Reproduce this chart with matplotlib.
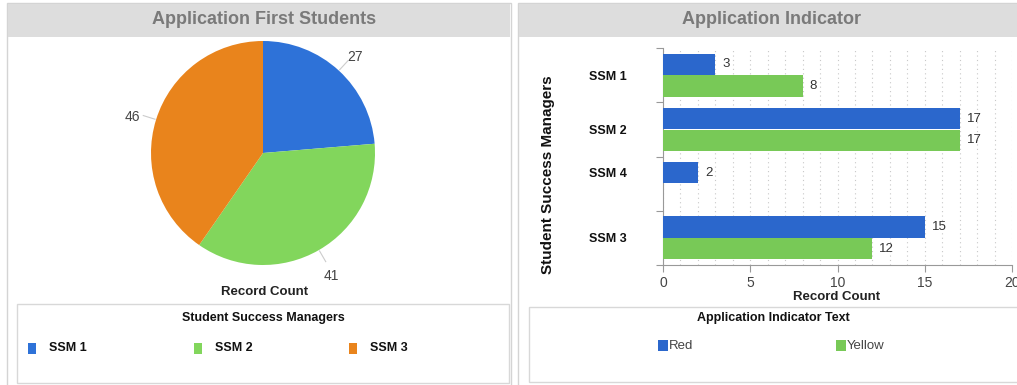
import numpy as np
import matplotlib
matplotlib.use('Agg')
import matplotlib.pyplot as plt
from matplotlib.patches import Rectangle

plt.rcParams['font.family'] = ['Liberation Sans', 'DejaVu Sans']

# pie data
pie_labels = ['SSM 1', 'SSM 2', 'SSM 3']
pie_values = [27, 41, 46]
pie_colors = ['#2e72d8', '#82d65c', '#e9841c']

# bar data
managers = ['SSM 1', 'SSM 2', 'SSM 4', 'SSM 3']
red_counts = [3, 17, 2, 15]
yellow_counts = [8, 17, None, 12]
bar_series = ['Red', 'Yellow']
bar_colors = ['#2b67cc', '#78c957']
x_ticks = [0, 5, 10, 15, 20]

W, H = 1017, 385
fig = plt.figure(figsize=(W / 100., H / 100.), dpi=100)
fig.patch.set_facecolor('white')

def fx(x):
    return x / float(W)

def fy(y):
    return 1 - y / float(H)

def box(x0, y0, x1, y1, zorder=-1, **kw):
    fig.patches.append(Rectangle((fx(x0), fy(y1)), (x1 - x0) / float(W), (y1 - y0) / float(H),
                                 transform=fig.transFigure, zorder=zorder, **kw))

def ptext(x, y, s, **kw):
    kw.setdefault('ha', 'center')
    kw.setdefault('va', 'center')
    fig.text(fx(x), fy(y), s, **kw)

# panel frames and title bars
box(7, 3, 511, 386, facecolor='white', edgecolor='#d4d4d4', linewidth=1, zorder=-3)
box(518, 3, 1018, 386, facecolor='white', edgecolor='#d4d4d4', linewidth=1, zorder=-3)
box(8, 4, 510, 37, facecolor='#dddddd', edgecolor='none', zorder=-2)
box(519, 4, 1017, 37, facecolor='#dddddd', edgecolor='none', zorder=-2)
ptext(264, 20, 'Application First Students', fontsize=13, fontweight='bold', color='#7a7a7a')
ptext(772, 20, 'Application Indicator', fontsize=13, fontweight='bold', color='#7a7a7a')

# legend boxes
box(17, 304, 509, 383, facecolor='white', edgecolor='#d8d8d8', linewidth=1)
box(529, 307, 1020, 382, facecolor='white', edgecolor='#d8d8d8', linewidth=1)

# ---- pie ----
cx, cy, r = 263, 153, 112
hw, hh = 160, 150
ax_pie = fig.add_axes([fx(cx - hw), fy(cy + hh), 2 * hw / float(W), 2 * hh / float(H)])
ax_pie.pie(pie_values, colors=pie_colors, startangle=90, counterclock=False,
           radius=1, wedgeprops=dict(linewidth=0))
ax_pie.set_xlim(-hw / float(r), hw / float(r))
ax_pie.set_ylim(-hh / float(r), hh / float(r))
ax_pie.set_aspect('auto')
ax_pie.axis('off')

total = float(sum(pie_values))
cum = 0
for v in pie_values:
    theta = np.deg2rad(90 - 360 * (cum + v / 2.) / total)
    cum += v
    c, s = np.cos(theta), np.sin(theta)
    ax_pie.plot([1.01 * c, 1.12 * c], [1.01 * s, 1.12 * s], color='#cccccc', lw=0.8, clip_on=False)
    ax_pie.text(1.22 * c, 1.22 * s - 0.04, str(v), ha='center', va='center', fontsize=10,
                color='#444444')

ptext(265, 292, 'Record Count', fontsize=9.5, fontweight='bold', color='#222222')
ptext(263, 318, 'Student Success Managers', fontsize=9, fontweight='bold', color='#111111')
legend_x = [28, 194, 349]
for lx, lab, col in zip(legend_x, pie_labels, pie_colors):
    box(lx, 343, lx + 8, 354, zorder=1, facecolor=col, edgecolor='none')
    ptext(lx + 21, 348, lab, fontsize=9, fontweight='bold', color='#111111', ha='left')

# ---- bars ----
x0, x1, y0, y1 = 663, 1012, 48, 265
ax_bar = fig.add_axes([fx(x0), fy(y1), (x1 - x0) / float(W), (y1 - y0) / float(H)])
ax_bar.patch.set_alpha(0)
bh = 0.39
offsets = [0.3, 0.7]
centers = []
for i, name in enumerate(managers):
    present = []
    for off, vals, col in zip(offsets, [red_counts, yellow_counts], bar_colors):
        v = vals[i]
        if v is None:
            continue
        present.append(off)
        ax_bar.barh(i + off, v, height=bh, color=col, edgecolor='none', zorder=3)
        ax_bar.annotate(str(v), (v, i + off), xytext=(5, 0), textcoords='offset points',
                        ha='left', va='center', fontsize=9.5, color='#333333')
    centers.append(i + np.mean(present))

ax_bar.set_xlim(0, 20)
ax_bar.set_ylim(len(managers), 0)
ax_bar.set_xticks(x_ticks)
ax_bar.set_xticks(np.arange(1, 21), minor=True)
ax_bar.xaxis.grid(True, which='both', color='#c8c8c8', linestyle=(0, (1, 3)), lw=0.8, zorder=0)
ax_bar.tick_params(axis='x', which='major', length=5, color='#999999', labelsize=10,
                   labelcolor='#444444', pad=3)
ax_bar.tick_params(axis='x', which='minor', length=0)
ax_bar.set_yticks(np.arange(len(managers) + 1))
ax_bar.set_yticklabels([])
ax_bar.tick_params(axis='y', which='major', length=5, color='#999999')
ax_bar.set_yticks(centers, minor=True)
ax_bar.set_yticklabels(managers, minor=True, fontsize=9, fontweight='bold', color='#111111')
ax_bar.tick_params(axis='y', which='minor', length=0, pad=26)
for side in ['top', 'right']:
    ax_bar.spines[side].set_visible(False)
for side in ['left', 'bottom']:
    ax_bar.spines[side].set_color('#999999')

ptext(548, 175, 'Student Success Managers', fontsize=11, fontweight='bold', color='#111111',
      rotation=90)
ptext(837, 297, 'Record Count', fontsize=9.5, fontweight='bold', color='#222222')
ptext(773, 318, 'Application Indicator Text', fontsize=9, fontweight='bold', color='#111111')
legend_bx = [658, 836]
for lx, lab, col in zip(legend_bx, bar_series, bar_colors):
    box(lx, 340, lx + 10, 351, zorder=1, facecolor=col, edgecolor='none')
    ptext(lx + 11, 346, lab, fontsize=9.5, color='#444444', ha='left')

fig.savefig('out.png', dpi=100)
